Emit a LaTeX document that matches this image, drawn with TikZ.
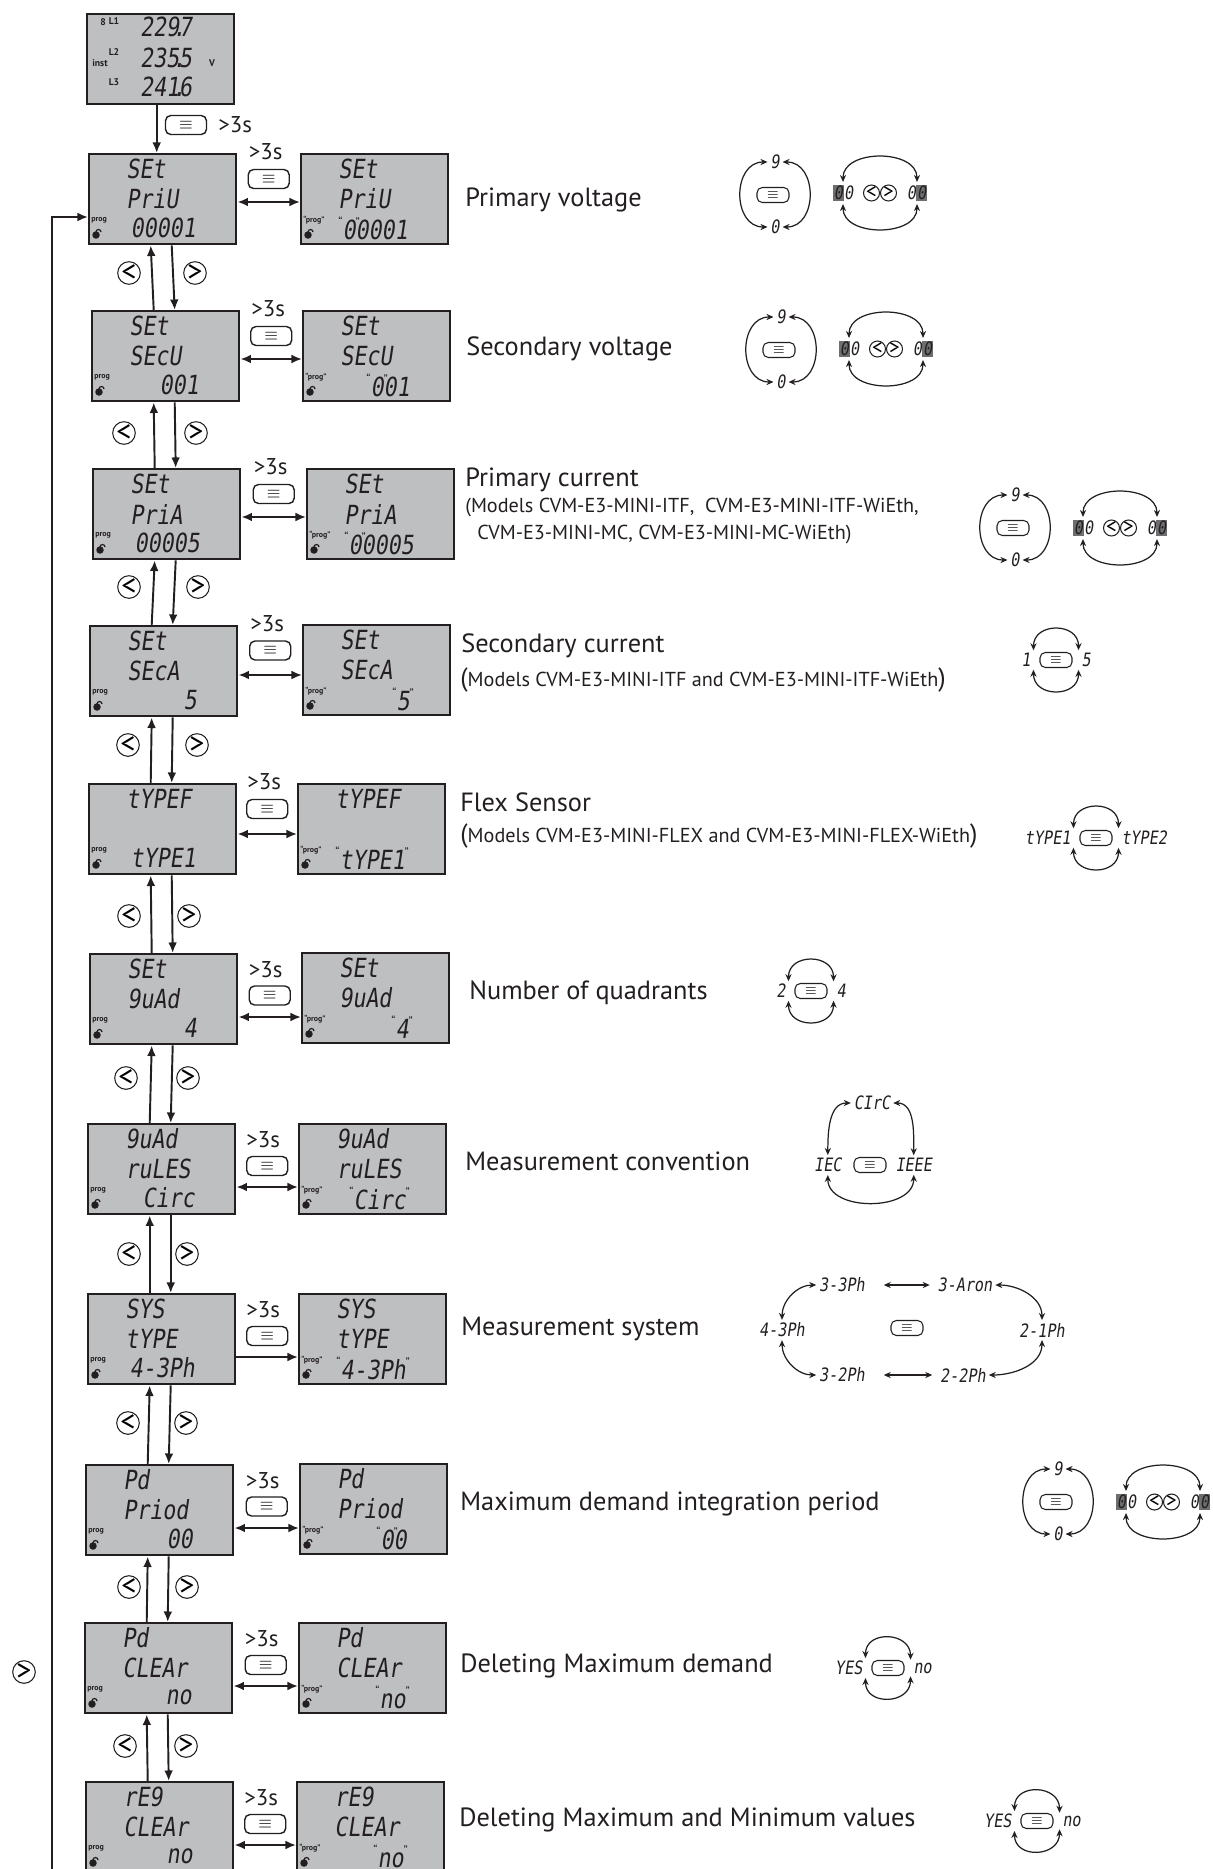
\documentclass[tikz,border=0pt]{standalone}
\usepackage{fontspec}
\setmainfont{PT Sans}
\newfontfamily\segfont[FakeStretch=0.82,FakeSlant=0.15]{DejaVu Sans Mono}
\usepackage{xcolor}
\usepackage{tikz}
\usetikzlibrary{arrows.meta, positioning, calc}

\definecolor{lcdgray}{RGB}{190,191,193}
\definecolor{ink}{RGB}{35,31,32}
\definecolor{hlgray}{RGB}{110,110,112}

\newcommand{\hlseg}[1]{{\setlength{\fboxsep}{0.6pt}\colorbox{hlgray}{#1}}}
\newcommand{\blink}[1]{\llap{\raisebox{0.9ex}{\rmfamily\fontsize{7}{7}\selectfont“}}#1\rlap{\raisebox{0.9ex}{\rmfamily\fontsize{7}{7}\selectfont”}}}
\newcommand{\segdot}{\kern-.25em.\kern-.25em}

% one display: name, top left corner, three lines, prog label
\newcommand{\lcd}[6]{%
  \node[lcd, anchor=north west] (#1) at (#2) {};
  \node[seg, anchor=west] (#1-a) at ($(#1.north west)+(38,16)$) {#3};
  \node[seg, anchor=west] (#1-b) at ($(#1.north west)+(38,46)$) {#4};
  \node[seg, anchor=east] (#1-c) at ($(#1.north west)+(108,75)$) {#5};
  \node[prog, anchor=west] (#1-p) at ($(#1.north west)+(3,67)$) {#6};
  \fill[ink] ($(#1.north west)+(8,82)$) circle (0.075cm);
  \draw[ink, line width=0.7pt] ($(#1.north west)+(8,79)$) arc[start angle=180, end angle=0, radius=0.05cm];
}
% 9 / 0 digit cycle
\newcommand{\nineicon}[2]{%
  \node[menusm] (#1m) at (#2) {$\equiv$};
  \node[segsm] (#1n) at ($(#1m)+(2,-33)$) {9};
  \node[segsm] (#1z) at ($(#1m)+(2,32)$) {0};
  \draw[cyc] (#1n.west) to[out=180, in=180, looseness=1.4] (#1z.west);
  \draw[cyc] (#1n.east) to[out=0, in=0, looseness=1.4] (#1z.east);
}
% digit shift with the arrow keys
\newcommand{\digicon}[2]{%
  \node[navsm] (#1l) at ($(#2)+(-8.5,0)$) {<};
  \node[navsm] (#1r) at ($(#2)+(8.5,0)$) {>};
  \node[segsm] (#1a) at ($(#2)+(-37,0)$) {\hlseg{0}0};
  \node[segsm] (#1b) at ($(#2)+(37,0)$) {0\hlseg{0}};
  \draw[cyc] (#1a.north) to[out=90, in=90, looseness=1.15] (#1b.north);
  \draw[cyc] (#1a.south) to[out=-90, in=-90, looseness=1.15] (#1b.south);
}
% two options swapped with the menu key
\newcommand{\swapicon}[4]{%
  \node[menusm] (#1m) at (#2) {$\equiv$};
  \node[segsm, anchor=east] (#1a) at ($(#1m.west)+(-6,0)$) {#3};
  \node[segsm, anchor=west] (#1b) at ($(#1m.east)+(6,0)$) {#4};
  \draw[cyc] (#1a.north east) to[out=90, in=90, looseness=1.6] (#1b.north west);
  \draw[cyc] (#1a.south east) to[out=-90, in=-90, looseness=1.6] (#1b.south west);
}

\begin{document}
\begin{tikzpicture}[
    x=0.02cm, y=-0.02cm,
    lcd/.style={draw=ink, fill=lcdgray, line width=1.4pt, minimum width=2.94cm, minimum height=1.8cm},
    seg/.style={inner sep=0pt, text=ink, font=\segfont\fontsize{15}{16}\selectfont},
    segsm/.style={inner sep=1.5pt, text=ink, font=\segfont\fontsize{10.5}{11}\selectfont},
    prog/.style={inner sep=0pt, text=ink, font=\bfseries\fontsize{4.5}{5}\selectfont},
    tag/.style={inner sep=0pt, text=ink, font=\bfseries\fontsize{5.5}{6}\selectfont},
    menu/.style={draw=ink, rounded corners=3pt, line width=0.8pt, minimum width=0.82cm, minimum height=0.38cm, inner sep=0pt, font=\normalsize},
    menusm/.style={menu, minimum width=0.64cm, minimum height=0.3cm, line width=0.6pt, font=\footnotesize},
    nav/.style={draw=ink, circle, line width=0.6pt, minimum size=0.44cm, inner sep=0pt, font=\fontsize{17}{17}\selectfont},
    navsm/.style={nav, minimum size=0.32cm, font=\fontsize{12}{12}\selectfont},
    flow/.style={-{Latex[length=6pt,width=5pt]}, line width=1.1pt, draw=ink},
    both/.style={{Latex[length=6pt,width=5pt]}-{Latex[length=6pt,width=5pt]}, line width=1.1pt, draw=ink},
    cyc/.style={{Stealth[length=4pt,width=3.5pt]}-{Stealth[length=4pt,width=3.5pt]}, line width=0.7pt, draw=ink},
    title/.style={anchor=west, inner sep=0pt, text=ink, font=\fontsize{15}{18}\selectfont},
    note/.style={anchor=west, inner sep=0pt, text=ink, font=\fontsize{11.5}{14}\selectfont},
    hold/.style={inner sep=0pt, text=ink, font=\fontsize{13}{14}\selectfont}
]
    \useasboundingbox (0,0) rectangle (1213,1869);

    % start display
    \node[lcd, anchor=north west] (inst) at (86,13) {};
    \node[seg] (inst-a) at (166,27) {229\segdot7};
    \node[seg] (inst-b) at (166,58) {235\segdot5};
    \node[seg] (inst-c) at (166,87) {241\segdot6};
    \node[tag] (inst-k) at (103,22) {8};
    \node[tag] (inst-l1) at (114,21) {L1};
    \node[tag] (inst-l2) at (114,52) {L2};
    \node[tag] (inst-i) at (100,63) {inst};
    \node[tag] (inst-l3) at (114,82) {L3};
    \node[tag] (inst-v) at (212,63) {V};

    % programming displays
    \lcd{s1}{88,153}{SEt}{PriU}{00001}{prog}
    \lcd{p1}{300,153}{SEt}{PriU}{\blink{0}0001}{“prog”}
    \lcd{s2}{91,310}{SEt}{SEcU}{001}{prog}
    \lcd{p2}{302,310}{SEt}{SEcU}{\blink{0}01}{“prog”}
    \lcd{s3}{92,468}{SEt}{PriA}{00005}{prog}
    \lcd{p3}{306,468}{SEt}{PriA}{\blink{0}0005}{“prog”}
    \lcd{s4}{89,625}{SEt}{SEcA}{5}{prog}
    \lcd{p4}{302,624}{SEt}{SEcA}{\blink{5}}{“prog”}
    \lcd{s5}{88,783}{tYPEF}{}{tYPE1}{prog}
    \lcd{p5}{297,783}{tYPEF}{}{\blink{tYPE1}}{“prog”}
    \lcd{s6}{89,953}{SEt}{9uAd}{4}{prog}
    \lcd{p6}{301,952}{SEt}{9uAd}{\blink{4}}{“prog”}
    \lcd{s7}{87,1123}{9uAd}{ruLES}{Circ}{prog}
    \lcd{p7}{298,1123}{9uAd}{ruLES}{\blink{Circ}}{“prog”}
    \lcd{s8}{87,1293}{SYS}{tYPE}{4-3Ph}{prog}
    \lcd{p8}{298,1293}{SYS}{tYPE}{\blink{4-3Ph}}{“prog”}
    \lcd{s9}{85,1464}{Pd}{Priod}{00}{prog}
    \lcd{p9}{299,1463}{Pd}{Priod}{\blink{0}0}{“prog”}
    \lcd{s10}{84,1622}{Pd}{CLEAr}{no}{prog}
    \lcd{p10}{298,1622}{Pd}{CLEAr}{\blink{no}}{“prog”}
    \lcd{s11}{85,1781}{rE9}{CLEAr}{no}{prog}
    \lcd{p11}{296,1781}{rE9}{CLEAr}{\blink{no}}{“prog”}

    % enter setup
    \draw[flow] ($(inst.south)+(-4,0)$) -- ($(s1.north)+(-6,0)$);
    \node[menu] (m0) at (186,125) {$\equiv$};
    \node[hold, anchor=west] (h0) at (218,125) {>3s};
    \coordinate (fb) at (52,1869);
    \draw[flow] (fb) |- ($(s1.north west)+(0,64)$);
    \node[nav] (nfb) at (24,1672) {>};

    % edit value
    \draw[both] ($(s1.north east)+(0,49)$) -- ($(p1.north west)+(0,49)$);
    \node[hold] (h1) at ($(s1.north east)!0.5!(p1.north west)+(-3,-1)$) {>3s};
    \node[menu] (m1) at ($(s1.north east)!0.5!(p1.north west)+(0,26)$) {$\equiv$};
    \draw[both] ($(s2.north east)+(0,49)$) -- ($(p2.north west)+(0,49)$);
    \node[hold] (h2) at ($(s2.north east)!0.5!(p2.north west)+(-3,-1)$) {>3s};
    \node[menu] (m2) at ($(s2.north east)!0.5!(p2.north west)+(0,26)$) {$\equiv$};
    \draw[both] ($(s3.north east)+(0,49)$) -- ($(p3.north west)+(0,49)$);
    \node[hold] (h3) at ($(s3.north east)!0.5!(p3.north west)+(-3,-1)$) {>3s};
    \node[menu] (m3) at ($(s3.north east)!0.5!(p3.north west)+(0,26)$) {$\equiv$};
    \draw[both] ($(s4.north east)+(0,50)$) -- ($(p4.north west)+(0,51)$);
    \node[hold] (h4) at ($(s4.north east)!0.5!(p4.north west)+(-3,-1)$) {>3s};
    \node[menu] (m4) at ($(s4.north east)!0.5!(p4.north west)+(0,26)$) {$\equiv$};
    \draw[both] ($(s5.north east)+(0,51)$) -- ($(p5.north west)+(0,51)$);
    \node[hold] (h5) at ($(s5.north east)!0.5!(p5.north west)+(-3,-1)$) {>3s};
    \node[menu] (m5) at ($(s5.north east)!0.5!(p5.north west)+(0,26)$) {$\equiv$};
    \draw[both] ($(s6.north east)+(0,64)$) -- ($(p6.north west)+(0,65)$);
    \node[hold] (h6) at ($(s6.north east)!0.5!(p6.north west)+(-4,17)$) {>3s};
    \node[menu] (m6) at ($(s6.north east)!0.5!(p6.north west)+(0,43)$) {$\equiv$};
    \draw[both] ($(s7.north east)+(0,64)$) -- ($(p7.north west)+(0,64)$);
    \node[hold] (h7) at ($(s7.north east)!0.5!(p7.north west)+(-4,17)$) {>3s};
    \node[menu] (m7) at ($(s7.north east)!0.5!(p7.north west)+(0,43)$) {$\equiv$};
    \draw[flow] ($(s8.north east)+(0,64)$) -- ($(p8.north west)+(0,64)$);
    \node[hold] (h8) at ($(s8.north east)!0.5!(p8.north west)+(-4,17)$) {>3s};
    \node[menu] (m8) at ($(s8.north east)!0.5!(p8.north west)+(0,43)$) {$\equiv$};
    \draw[both] ($(s9.north east)+(0,64)$) -- ($(p9.north west)+(0,65)$);
    \node[hold] (h9) at ($(s9.north east)!0.5!(p9.north west)+(-4,17)$) {>3s};
    \node[menu] (m9) at ($(s9.north east)!0.5!(p9.north west)+(0,43)$) {$\equiv$};
    \draw[both] ($(s10.north east)+(0,64)$) -- ($(p10.north west)+(0,64)$);
    \node[hold] (h10) at ($(s10.north east)!0.5!(p10.north west)+(-4,17)$) {>3s};
    \node[menu] (m10) at ($(s10.north east)!0.5!(p10.north west)+(0,43)$) {$\equiv$};
    \draw[both] ($(s11.north east)+(0,64)$) -- ($(p11.north west)+(0,64)$);
    \node[hold] (h11) at ($(s11.north east)!0.5!(p11.north west)+(-4,17)$) {>3s};
    \node[menu] (m11) at ($(s11.north east)!0.5!(p11.north west)+(0,43)$) {$\equiv$};

    % move between parameters
    \draw[flow] ($(s2.north)+(-12,0)$) -- ($(s1.south)+(-12,0)$);
    \draw[flow] ($(s1.south)+(9,0)$) -- ($(s2.north)+(9,0)$);
    \draw[flow] ($(s3.north)+(-12,0)$) -- ($(s2.south)+(-12,0)$);
    \draw[flow] ($(s2.south)+(9,0)$) -- ($(s3.north)+(9,0)$);
    \draw[flow] ($(s4.north)+(-12,0)$) -- ($(s3.south)+(-12,0)$);
    \draw[flow] ($(s3.south)+(9,0)$) -- ($(s4.north)+(9,0)$);
    \draw[flow] ($(s5.north)+(-12,0)$) -- ($(s4.south)+(-12,0)$);
    \draw[flow] ($(s4.south)+(9,0)$) -- ($(s5.north)+(9,0)$);
    \draw[flow] ($(s6.north)+(-12,0)$) -- ($(s5.south)+(-12,0)$);
    \draw[flow] ($(s5.south)+(9,0)$) -- ($(s6.north)+(9,0)$);
    \draw[flow] ($(s7.north)+(-12,0)$) -- ($(s6.south)+(-12,0)$);
    \draw[flow] ($(s6.south)+(9,0)$) -- ($(s7.north)+(9,0)$);
    \draw[flow] ($(s8.north)+(-12,0)$) -- ($(s7.south)+(-12,0)$);
    \draw[flow] ($(s7.south)+(9,0)$) -- ($(s8.north)+(9,0)$);
    \draw[flow] ($(s9.north)+(-12,0)$) -- ($(s8.south)+(-12,0)$);
    \draw[flow] ($(s8.south)+(9,0)$) -- ($(s9.north)+(9,0)$);
    \draw[flow] ($(s10.north)+(-12,0)$) -- ($(s9.south)+(-12,0)$);
    \draw[flow] ($(s9.south)+(9,0)$) -- ($(s10.north)+(9,0)$);
    \draw[flow] ($(s11.north)+(-12,0)$) -- ($(s10.south)+(-12,0)$);
    \draw[flow] ($(s10.south)+(9,0)$) -- ($(s11.north)+(9,0)$);
    \node[nav] (nl1) at (129,273) {<};  \node[nav] (nr1) at (195,273) {>};
    \node[nav] (nl2) at (124,433) {<};  \node[nav] (nr2) at (196,433) {>};
    \node[nav] (nl3) at (129,587) {<};  \node[nav] (nr3) at (198,587) {>};
    \node[nav] (nl4) at (128,745) {<};  \node[nav] (nr4) at (197,745) {>};
    \node[nav] (nl5) at (129,916) {<};  \node[nav] (nr5) at (189,916) {>};
    \node[nav] (nl6) at (126,1078) {<}; \node[nav] (nr6) at (188,1078) {>};
    \node[nav] (nl7) at (129,1254) {<}; \node[nav] (nr7) at (187,1254) {>};
    \node[nav] (nl8) at (128,1423) {<}; \node[nav] (nr8) at (186,1423) {>};
    \node[nav] (nl9) at (129,1587) {<}; \node[nav] (nr9) at (187,1587) {>};
    \node[nav] (nl10) at (125,1746) {<}; \node[nav] (nr10) at (186,1746) {>};

    % descriptions
    \node[title] (t1) at (465,200) {Primary voltage};
    \node[title] (t2) at (466,349) {Secondary voltage};
    \node[title] (t3) at (465,480) {Primary current};
    \node[note] (t3a) at (465,508) {(Models CVM-E3-MINI-ITF,\ \ CVM-E3-MINI-ITF-WiEth,};
    \node[note] (t3b) at (477,535) {CVM-E3-MINI-MC, CVM-E3-MINI-MC-WiEth)};
    \node[title] (t4) at (461,646) {Secondary current};
    \node[note] (t4a) at (460,680) {{\fontsize{15}{18}\selectfont(}Models CVM-E3-MINI-ITF and CVM-E3-MINI-ITF-WiEth{\fontsize{15}{18}\selectfont)}};
    \node[title] (t5) at (460,802) {Flex Sensor};
    \node[note] (t5a) at (460,836) {{\fontsize{15}{18}\selectfont(}Models CVM-E3-MINI-FLEX and CVM-E3-MINI-FLEX-WiEth{\fontsize{15}{18}\selectfont)}};
    \node[title] (t6) at (469,993) {Number of quadrants};
    \node[title] (t7) at (465,1161) {Measurement convention};
    \node[title] (t8) at (461,1329) {Measurement system};
    \node[title] (t9) at (460,1504) {Maximum demand integration period};
    \node[title] (t10) at (460,1666) {Deleting Maximum demand};
    \node[title] (t11) at (459,1820) {Deleting Maximum and Minimum values};

    % key hints
    \nineicon{c1}{773,195}
    \digicon{d1}{880,193}
    \nineicon{c2}{779,350}
    \digicon{d2}{886,349}
    \nineicon{c3}{1013,528}
    \digicon{d3}{1120,528}
    \swapicon{w4}{1056,660}{1}{5}
    \swapicon{w5}{1096,838}{tYPE1}{tYPE2}
    \swapicon{w6}{811,991}{2}{4}

    \node[menusm] (v7m) at (870,1165) {$\equiv$};
    \node[segsm] (v7c) at (872,1103) {CIrC};
    \node[segsm, anchor=east] (v7a) at ($(v7m.west)+(-9,0)$) {IEC};
    \node[segsm, anchor=west] (v7b) at ($(v7m.east)+(6,0)$) {IEEE};
    \draw[cyc] (v7a.north) to[out=90, in=180] (v7c.west);
    \draw[cyc] (v7c.east) to[out=0, in=90] (v7b.north);
    \draw[cyc] (v7a.south) to[out=-90, in=-90, looseness=1.1] (v7b.south);

    \node[menusm] (v8m) at (907,1328) {$\equiv$};
    \node[segsm] (v8a) at (842,1285) {3-3Ph};
    \node[segsm] (v8b) at (965,1285) {3-Aron};
    \node[segsm] (v8c) at (782,1330) {4-3Ph};
    \node[segsm] (v8d) at (1042,1330) {2-1Ph};
    \node[segsm] (v8e) at (842,1375) {3-2Ph};
    \node[segsm] (v8f) at (963,1375) {2-2Ph};
    \draw[cyc, shorten <=0.32cm, shorten >=0.1cm] (v8a.east) -- (v8b.west);
    \draw[cyc, shorten <=0.32cm, shorten >=0.1cm] (v8e.east) -- (v8f.west);
    \draw[cyc] (v8c.north) to[out=90, in=180] (v8a.west);
    \draw[cyc] (v8c.south) to[out=-90, in=180] (v8e.west);
    \draw[cyc] (v8b.east) to[out=0, in=90] (v8d.north);
    \draw[cyc] (v8d.south) to[out=-90, in=0] (v8f.east);

    \nineicon{c9}{1056,1502}
    \digicon{d9}{1163,1502}
    \swapicon{w10}{888,1668}{YES}{no}
    \swapicon{w11}{1037,1821}{YES}{no}
\end{tikzpicture}
\end{document}
